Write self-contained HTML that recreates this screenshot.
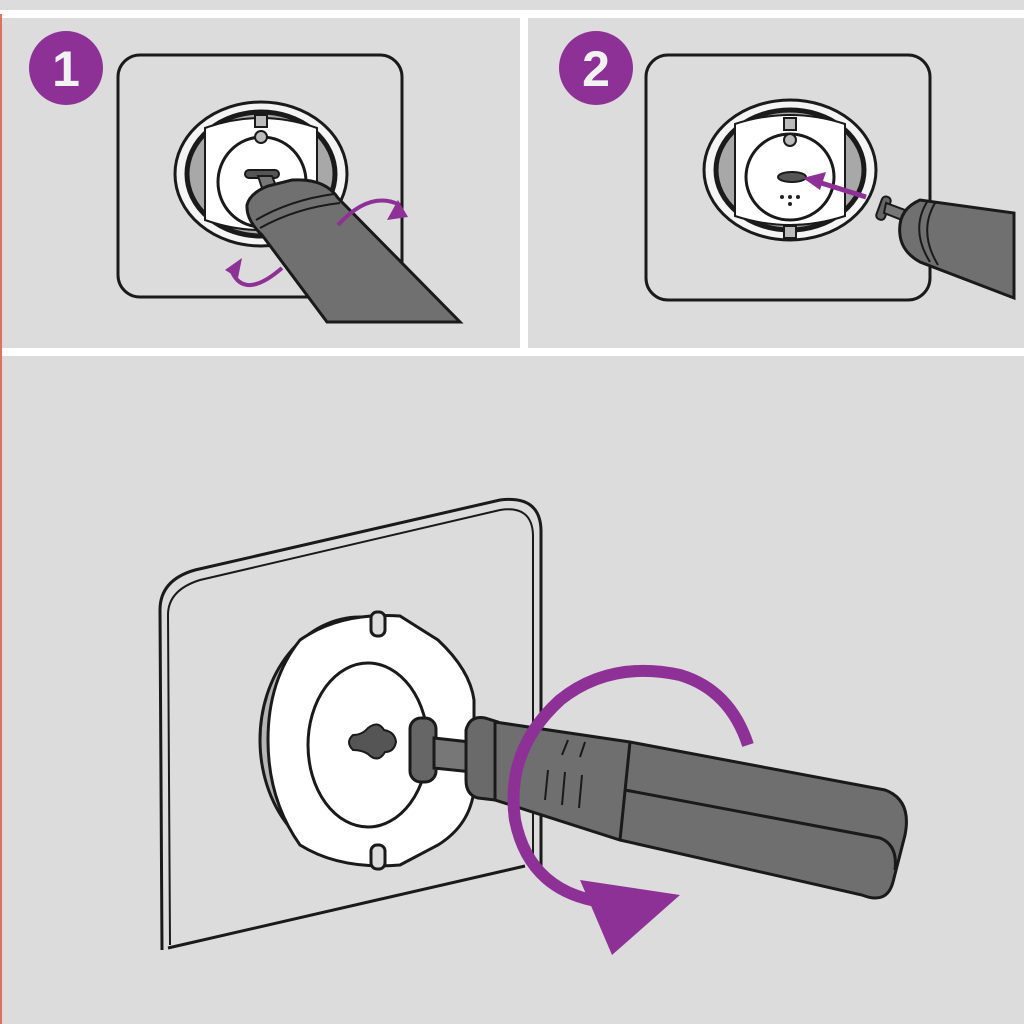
<!DOCTYPE html>
<html><head><style>html,body{margin:0;padding:0;background:#dcdcdc}svg{display:block}</style></head>
<body>
<svg width="1024" height="1024" viewBox="0 0 1024 1024" xmlns="http://www.w3.org/2000/svg">
<rect width="1024" height="1024" fill="#dcdcdc"/>
<rect x="0" y="10" width="1024" height="8" fill="#fff"/>
<rect x="520" y="18" width="8" height="332" fill="#fff"/>
<rect x="0" y="348" width="1024" height="8" fill="#fff"/>
<rect x="0" y="14" width="2" height="1010" fill="#e07060"/>

<!-- Panel 1 -->
<circle cx="66" cy="68" r="37" fill="#8e3196"/>
<text x="66" y="86" text-anchor="middle" font-family="Liberation Sans, sans-serif" font-weight="bold" font-size="50" fill="#f2f2f2">1</text>
<rect x="118" y="55" width="284" height="242" rx="22" fill="none" stroke="#1a1a1a" stroke-width="3"/>
<ellipse cx="261" cy="174" rx="86" ry="72" fill="#f4f4f4" stroke="#1a1a1a" stroke-width="3"/>
<ellipse cx="261" cy="174" rx="74" ry="62" fill="#a8a8a8" stroke="#1a1a1a" stroke-width="5"/>
<path d="M205 128 Q261 108 317 128 L317 220 Q261 240 205 220 Z" fill="#fff" stroke="#1a1a1a" stroke-width="2"/>
<ellipse cx="262" cy="182" rx="44" ry="45" fill="#fff" stroke="#1a1a1a" stroke-width="3"/>
<circle cx="261" cy="137" r="6" fill="#bbb" stroke="#1a1a1a" stroke-width="2"/>
<rect x="255" y="115" width="12" height="12" fill="#bbb" stroke="#1a1a1a" stroke-width="2"/>
<rect x="245" y="170" width="34" height="8" rx="4" fill="#555" stroke="#1a1a1a" stroke-width="2"/>
<path d="M258 176 L272 176 L280 196 L266 200 Z" fill="#777" stroke="#1a1a1a" stroke-width="2"/>
<path d="M247 205 Q250 193 268 186 L292 180 Q325 178 338 198 L460 322 L327 322 L262 235 Q246 220 247 205 Z" fill="#707070" stroke="#1a1a1a" stroke-width="3"/>
<path d="M256 220 Q290 200 334 194" fill="none" stroke="#1a1a1a" stroke-width="2"/>
<path d="M260 228 Q296 208 340 203" fill="none" stroke="#1a1a1a" stroke-width="2"/>
<path d="M338 225 Q370 190 400 205" fill="none" stroke="#8e3196" stroke-width="4"/>
<path d="M387 220 L408 217 L398 200 Z" fill="#8e3196"/>
<path d="M282 268 Q245 300 232 272" fill="none" stroke="#8e3196" stroke-width="4"/>
<path d="M225 270 L242 258 L238 278 Z" fill="#8e3196"/>

<!-- Panel 2 -->
<circle cx="596" cy="68" r="37" fill="#8e3196"/>
<text x="596" y="86" text-anchor="middle" font-family="Liberation Sans, sans-serif" font-weight="bold" font-size="50" fill="#f2f2f2">2</text>
<rect x="646" y="55" width="284" height="245" rx="22" fill="none" stroke="#1a1a1a" stroke-width="3"/>
<ellipse cx="790" cy="170" rx="86" ry="70" fill="#f4f4f4" stroke="#1a1a1a" stroke-width="3"/>
<ellipse cx="790" cy="170" rx="74" ry="60" fill="#a8a8a8" stroke="#1a1a1a" stroke-width="5"/>
<path d="M735 124 Q790 106 845 124 L845 216 Q790 234 735 216 Z" fill="#fff" stroke="#1a1a1a" stroke-width="2"/>
<ellipse cx="790" cy="177" rx="44" ry="43" fill="#fff" stroke="#1a1a1a" stroke-width="3"/>
<circle cx="790" cy="140" r="6" fill="#bbb" stroke="#1a1a1a" stroke-width="2"/>
<rect x="784" y="118" width="12" height="12" fill="#bbb" stroke="#1a1a1a" stroke-width="2"/>
<rect x="784" y="226" width="12" height="12" fill="#bbb" stroke="#1a1a1a" stroke-width="2"/>
<ellipse cx="792" cy="177" rx="14" ry="5" fill="#555" stroke="#1a1a1a" stroke-width="2"/>
<circle cx="782" cy="197" r="2" fill="#222"/><circle cx="790" cy="197" r="2" fill="#222"/><circle cx="798" cy="197" r="2" fill="#222"/><circle cx="790" cy="204" r="2" fill="#222"/>
<line x1="866" y1="197" x2="815" y2="181" stroke="#8e3196" stroke-width="5"/>
<path d="M803 178 L826 172 L820 190 Z" fill="#8e3196"/>
<rect x="879" y="196" width="9" height="24" rx="4" fill="#666" stroke="#1a1a1a" stroke-width="2" transform="rotate(20 883 208)"/>
<path d="M886 203 L905 210 L902 220 L884 213 Z" fill="#777" stroke="#1a1a1a" stroke-width="2"/>
<path d="M900 235 Q897 210 920 200 L1014 213 L1014 298 L920 262 Q902 252 900 235 Z" fill="#707070" stroke="#1a1a1a" stroke-width="3"/>
<path d="M927 202 Q910 230 930 262" fill="none" stroke="#1a1a1a" stroke-width="2"/>
<path d="M935 203 Q918 232 938 265" fill="none" stroke="#1a1a1a" stroke-width="2"/>

<!-- Bottom -->
<path d="M162 950 L160 610 Q160 580 195 570 L500 500 Q540 495 541 530 L541 870" fill="none" stroke="#1a1a1a" stroke-width="3"/>
<path d="M170 945 L168 615 Q168 590 200 580 L500 510 Q532 505 533 535 L533 862" fill="none" stroke="#1a1a1a" stroke-width="2"/>
<line x1="168" y1="948" x2="525" y2="866" stroke="#1a1a1a" stroke-width="3"/>
<ellipse cx="360" cy="740" rx="100" ry="123" fill="#b5b5b5" stroke="#1a1a1a" stroke-width="3"/>
<path d="M300 640 Q340 612 400 616 L438 640 Q470 670 474 700 L474 790 Q470 825 438 845 L400 865 Q340 870 300 845 Q268 800 268 740 Q268 680 300 640 Z" fill="#fff" stroke="#1a1a1a" stroke-width="3"/>
<rect x="371" y="612" width="14" height="24" rx="6" fill="#dcdcdc" stroke="#1a1a1a" stroke-width="3"/>
<rect x="371" y="845" width="14" height="24" rx="6" fill="#dcdcdc" stroke="#1a1a1a" stroke-width="3"/>
<ellipse cx="368" cy="745" rx="60" ry="82" fill="#fff" stroke="#1a1a1a" stroke-width="3"/>
<path d="M353 735 Q362 735 368 728 Q378 720 384 730 Q395 732 396 742 Q394 752 385 752 Q378 764 368 754 Q362 750 353 750 Q345 742 353 735 Z" fill="#555" stroke="#1a1a1a" stroke-width="2"/>
<rect x="410" y="718" width="26" height="64" rx="11" fill="#666" stroke="#1a1a1a" stroke-width="3"/>
<path d="M434 738 L470 742 L472 772 L434 768 Z" fill="#777" stroke="#1a1a1a" stroke-width="3"/>
<path d="M466 730 Q470 715 485 718 L498 722 Q505 760 495 800 L478 798 Q466 795 466 780 Z" fill="#6a6a6a" stroke="#1a1a1a" stroke-width="3"/>
<path d="M495 722 L630 742 L885 790 Q912 800 905 835 L893 882 Q887 905 862 895 L620 840 L495 800 Z" fill="#6f6f6f" stroke="#1a1a1a" stroke-width="3"/>
<path d="M630 742 L620 840" fill="none" stroke="#1a1a1a" stroke-width="3"/>
<path d="M625 790 L880 838 Q898 845 895 870" fill="none" stroke="#1a1a1a" stroke-width="3"/>
<g stroke="#1a1a1a" stroke-width="2"><line x1="548" y1="770" x2="545" y2="800"/><line x1="565" y1="772" x2="562" y2="805"/><line x1="582" y1="775" x2="579" y2="808"/><line x1="568" y1="740" x2="562" y2="755"/><line x1="585" y1="742" x2="580" y2="757"/></g>
<path d="M748 745 Q730 690 680 675 Q610 660 560 700 Q505 750 515 820 Q530 895 610 903" fill="none" stroke="#8e3196" stroke-width="12"/>
<path d="M580 880 L680 895 L612 955 Z" fill="#8e3196"/>
</svg>
</body></html>
